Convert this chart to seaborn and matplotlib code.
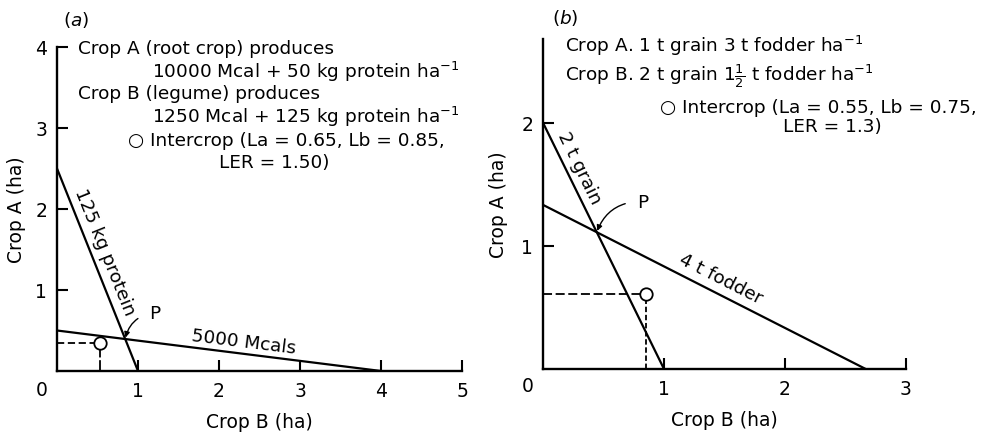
import matplotlib
matplotlib.use("Agg")
import matplotlib.pyplot as plt
import seaborn as sns
import pandas as pd

# ---- data ----
# panel (a)
protein_b = [0.0, 1.0]
protein_a = [2.5, 0.0]
mcal_b = [0.0, 4.0]
mcal_a = [0.5, 0.0]
inter_a_b, inter_a_a = 0.53, 0.34
p_a = (0.842, 0.395)
xticks_a = [1, 2, 3, 4, 5]
yticks_a = [1, 2, 3, 4]

# panel (b)
grain_b = [0.0, 1.0]
grain_a = [2.0, 0.0]
fodder_b = [0.0, 2.667]
fodder_a = [1.333, 0.0]
inter_b_b, inter_b_a = 0.85, 0.61
p_b = (0.444, 1.111)
xticks_b = [1, 2, 3]
yticks_b = [1, 2]

sns.set_theme(style="ticks")
plt.rcParams['font.family'] = ['DejaVu Sans']
plt.rcParams['text.color'] = 'black'
plt.rcParams['axes.labelcolor'] = 'black'
FS = 13.3
LFS = 13.5

fig = plt.figure(figsize=(9.86, 4.35), dpi=100)
W, H = 986, 435
ax1 = fig.add_axes([57 / W, 1 - 372 / H, 405 / W, 324 / H])
ax2 = fig.add_axes([543 / W, 1 - 370 / H, 363 / W, 330 / H])

lw = 1.6
for ax in (ax1, ax2):
    sns.despine(ax=ax)
    for s in ("left", "bottom"):
        ax.spines[s].set_linewidth(1.7)
        ax.spines[s].set_color("black")
    ax.tick_params(direction="in", length=8, width=1.5, colors="black",
                   labelsize=LFS, pad=7)
    ax.set_facecolor("white")

# ---- panel (a) ----
df_p = pd.DataFrame({"b": protein_b, "a": protein_a})
df_m = pd.DataFrame({"b": mcal_b, "a": mcal_a})
sns.lineplot(data=df_p, x="b", y="a", ax=ax1, color="black", lw=lw)
sns.lineplot(data=df_m, x="b", y="a", ax=ax1, color="black", lw=lw)
ax1.plot([0, inter_a_b], [inter_a_a, inter_a_a], color="black", lw=1.3, ls=(0, (4, 2)))
ax1.plot([inter_a_b, inter_a_b], [0, inter_a_a], color="black", lw=1.3, ls=(0, (6, 1.5)))
sns.scatterplot(x=[inter_a_b], y=[inter_a_a], ax=ax1, s=80, marker="o",
                facecolor="white", edgecolor="black", linewidth=1.3, zorder=5)
ax1.set_xlim(0, 5)
ax1.set_ylim(0, 4)
ax1.set_xticks(xticks_a)
ax1.set_yticks(yticks_a)
ax1.set_xlabel("Crop B (ha)", fontsize=LFS, labelpad=9)
ax1.set_ylabel("Crop A (ha)", fontsize=LFS, labelpad=7)
ax1.annotate("0", xy=(0, 0), xytext=(-11, -13), textcoords="offset points",
             ha="center", va="center", fontsize=LFS)

ax1.text(0.59, 1.48, "125 kg protein", rotation=-68, rotation_mode="anchor",
         ha="center", va="center", fontsize=FS)
ax1.text(2.3, 0.37, "5000 Mcals", rotation=-7, rotation_mode="anchor",
         ha="center", va="center", fontsize=FS)
ax1.annotate("P", xy=p_a, xytext=(1.2, 0.72), fontsize=FS, ha="center", va="center",
             arrowprops=dict(arrowstyle="-|>", color="black", lw=1.0,
                             connectionstyle="arc3,rad=0.35", shrinkA=6, shrinkB=1,
                             mutation_scale=8))

ax1.text(0.26, 3.99, "Crop A (root crop) produces", fontsize=FS, va="center")
ax1.text(1.17, 3.70, "10000 Mcal + 50 kg protein ha$^{-1}$", fontsize=FS, va="center")
ax1.text(0.26, 3.43, "Crop B (legume) produces", fontsize=FS, va="center")
ax1.text(1.17, 3.15, "1250 Mcal + 125 kg protein ha$^{-1}$", fontsize=FS, va="center")
ax1.text(0.88, 2.85, "○ Intercrop (La = 0.65, Lb = 0.85,", fontsize=FS, va="center")
ax1.text(2.0, 2.58, "LER = 1.50)", fontsize=FS, va="center")

# ---- panel (b) ----
df_g = pd.DataFrame({"b": grain_b, "a": grain_a})
df_f = pd.DataFrame({"b": fodder_b, "a": fodder_a})
sns.lineplot(data=df_g, x="b", y="a", ax=ax2, color="black", lw=lw)
sns.lineplot(data=df_f, x="b", y="a", ax=ax2, color="black", lw=lw)
ax2.plot([0, inter_b_b], [inter_b_a, inter_b_a], color="black", lw=1.3, ls=(0, (5, 2)))
ax2.plot([inter_b_b, inter_b_b], [0, inter_b_a], color="black", lw=1.3, ls=(0, (3, 1.5)))
sns.scatterplot(x=[inter_b_b], y=[inter_b_a], ax=ax2, s=80, marker="o",
                facecolor="white", edgecolor="black", linewidth=1.3, zorder=5)
ax2.set_xlim(0, 3)
ax2.set_ylim(0, 2.68)
ax2.set_xticks(xticks_b)
ax2.set_yticks(yticks_b)
ax2.set_xlabel("Crop B (ha)", fontsize=LFS, labelpad=9)
ax2.set_ylabel("Crop A (ha)", fontsize=LFS, labelpad=10)
ax2.annotate("0", xy=(0, 0), xytext=(-11, -12), textcoords="offset points",
             ha="center", va="center", fontsize=LFS)

ax2.text(0.30, 1.64, "2 t grain", rotation=-64, rotation_mode="anchor",
         ha="center", va="center", fontsize=FS)
ax2.text(1.47, 0.735, "4 t fodder", rotation=-27, rotation_mode="anchor",
         ha="center", va="center", fontsize=FS)
ax2.annotate("P", xy=p_b, xytext=(0.82, 1.36), fontsize=FS, ha="center", va="center",
             arrowprops=dict(arrowstyle="-|>", color="black", lw=1.0,
                             connectionstyle="arc3,rad=0.35", shrinkA=6, shrinkB=1,
                             mutation_scale=8))

ax2.text(0.18, 2.63, "Crop A. 1 t grain 3 t fodder ha$^{-1}$", fontsize=FS, va="center")
ax2.text(0.18, 2.39, "Crop B. 2 t grain 1$\\frac{1}{2}$ t fodder ha$^{-1}$", fontsize=FS, va="center")
ax2.text(0.97, 2.13, "○ Intercrop (La = 0.55, Lb = 0.75,", fontsize=FS, va="center")
ax2.text(1.98, 1.97, "LER = 1.3)", fontsize=FS, va="center")

fig.text(63 / W, 1 - 20 / H, "($a$)", fontsize=FS, va="center")
fig.text(552 / W, 1 - 18 / H, "($b$)", fontsize=FS, va="center")

fig.savefig("out.png", dpi=100, facecolor="white")
